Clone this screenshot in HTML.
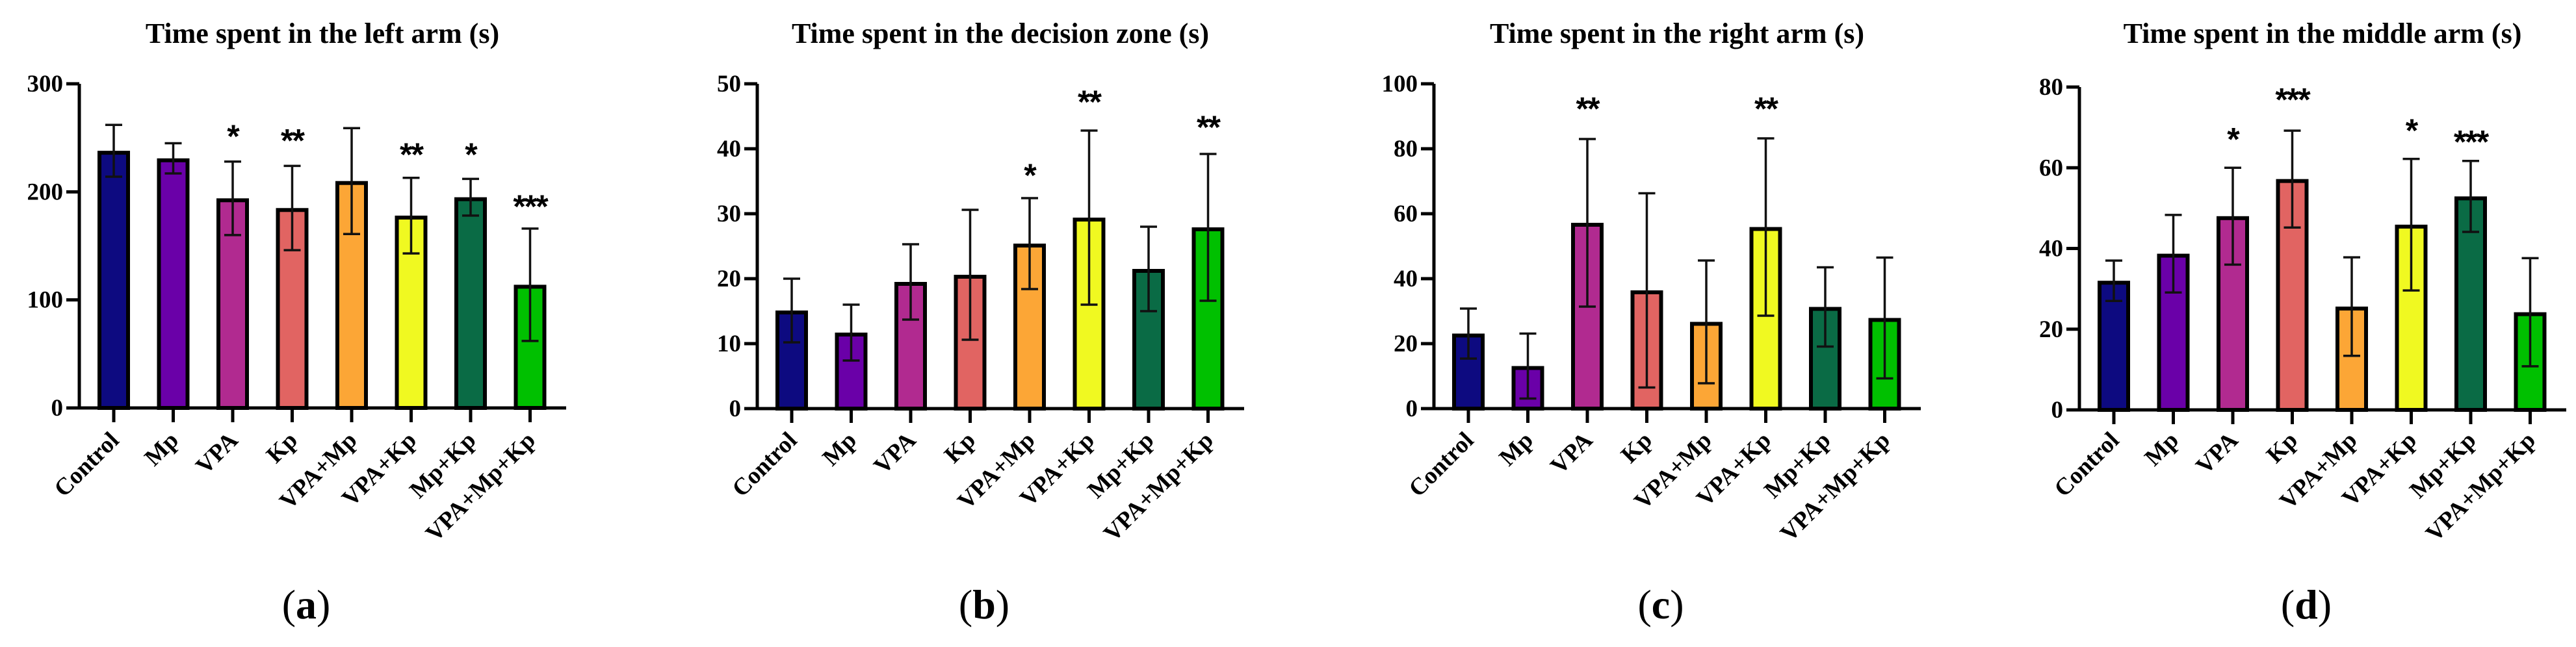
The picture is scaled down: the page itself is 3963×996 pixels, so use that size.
<!DOCTYPE html>
<html><head><meta charset="utf-8"><style>
html,body{margin:0;padding:0;background:#fff;}
svg{display:block;}
text{font-family:"Liberation Serif",serif;font-weight:bold;fill:#000;}
</style></head><body>
<svg id="fig" width="3963" height="996" viewBox="0 0 3963 996" xmlns="http://www.w3.org/2000/svg"></svg>
<script>
const categories = ["Control","Mp","VPA","Kp","VPA+Mp","VPA+Kp","Mp+Kp","VPA+Mp+Kp"];
const colors = ["#0d0a80","#6a00a8","#b12a90","#e16462","#fca636","#f0f921","#0a6b45","#00c000"];

const titles = ["Time spent in the left arm (s)","Time spent in the decision zone (s)","Time spent in the right arm (s)","Time spent in the middle arm (s)"];
const panelLetters = ["a","b","c","d"];
const yMaxes = [300,50,100,80];
const yTickSteps = [100,10,20,20];

const meansA = [238,231,194,185,210,178,195,114];
const sdA = [24,14,34,39,49,35,17,52];
const sigA = ["","","*","**","","**","*","***"];
const sigPosA = [0,0,258,254,0,241,241,193];

const meansB = [15.1,11.7,19.5,20.6,25.4,29.4,21.5,27.9];
const sdB = [4.9,4.3,5.8,10,7,13.4,6.5,11.3];
const sigB = ["","","","","*","**","","**"];
const sigPosB = [0,0,0,0,37,48.3,0,44.4];

const meansC = [23.1,13.1,57.2,36.4,26.7,55.9,31.3,27.9];
const sdC = [7.7,10,25.8,29.9,18.9,27.3,12.2,18.6];
const sigC = ["","","**","","","**","",""];
const sigPosC = [0,0,94.5,0,0,94.5,0,0];

const meansD = [32.0,38.7,48.0,57.2,25.6,45.9,52.9,24.2];
const sdD = [5,9.6,12,12,12.2,16.3,8.8,13.4];
const sigD = ["","","*","***","","*","***",""];
const sigPosD = [0,0,68.8,78.6,0,71,68.2,0];

const allMeans=[meansA,meansB,meansC,meansD], allSd=[sdA,sdB,sdC,sdD], allSig=[sigA,sigB,sigC,sigD], allSigPos=[sigPosA,sigPosB,sigPosC,sigPosD];

const NS="http://www.w3.org/2000/svg";
const svg=document.getElementById('fig');
function mk(tag,attrs,parent){const e=document.createElementNS(NS,tag);for(const k in attrs)e.setAttribute(k,attrs[k]);(parent||svg).appendChild(e);return e;}

const layouts=[{ax:122,top:129,zero:628},{ax:1165,top:129,zero:629},{ax:2206,top:129,zero:629},{ax:3199,top:134,zero:631}];

layouts.forEach((L,p)=>{
  const g=mk('g',{});
  
  
  const yMax=yMaxes[p];
  const yS=v=>L.zero-(v/yMax)*(L.zero-L.top);
  const xS=i=>L.ax+53+i*91.5;
  const t=mk('text',{x:L.ax+374,y:66,'font-size':44,'text-anchor':'middle'},g);
  t.textContent=titles[p];
  
  
  allMeans[p].forEach((m,i)=>{
    const cx=xS(i), top=yS(m);
    const r=mk('rect',{x:cx-22,y:top+3,width:44,height:L.zero-top-3,fill:colors[i],stroke:'#000','stroke-width':6},g);
    
    
    const sd=allSd[p][i];
    const e=mk('path',{d:`M${cx},${yS(m+sd)}V${yS(m-sd)}M${cx-13},${yS(m+sd)}H${cx+13}M${cx-13},${yS(m-sd)}H${cx+13}`,stroke:'#111','stroke-width':3.5,fill:'none'},g);
    
    
    const s=allSig[p][i];
    if(s){
      const st=mk('text',{x:cx,y:yS(allSigPos[p][i])+28,'font-size':50,'text-anchor':'middle','letter-spacing':-2,style:'font-family:"Liberation Sans",sans-serif'},g);
      st.textContent=s;
      
      
    }
    const tk=mk('line',{x1:cx,y1:L.zero,x2:cx,y2:L.zero+22,stroke:'#000','stroke-width':5},g);
    
    
    const lx=cx+10, ly=680;
    const lb=mk('text',{x:lx,y:ly,'font-size':37,'text-anchor':'end',transform:`rotate(-45 ${lx} ${ly})`},g);
    lb.textContent=categories[i];
    
    
  });
  const ya=mk('path',{d:`M${L.ax},${L.top}V${L.zero}H${L.ax+749}`,stroke:'#000','stroke-width':5,fill:'none'},g);
  
  
  for(let v=0;v<=yMax;v+=yTickSteps[p]){
    const y=yS(v);
    const tk=mk('line',{x1:L.ax-20,y1:y,x2:L.ax,y2:y,stroke:'#000','stroke-width':5},g);
    
    
    const tl=mk('text',{x:L.ax-25,y:y+12,'font-size':37,'text-anchor':'end'},g);
    tl.textContent=v;
    
    
  }
  const pl=mk('text',{x:L.ax+349,y:952,'font-size':64,'text-anchor':'middle'},g);
  pl.innerHTML='<tspan font-weight="normal">(</tspan>'+panelLetters[p]+'<tspan font-weight="normal">)</tspan>';
  
  
});
</script>
</body></html>
